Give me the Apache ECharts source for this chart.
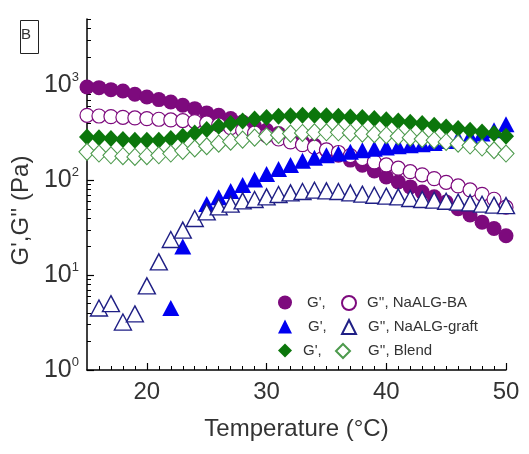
<!DOCTYPE html>
<html>
<head>
<meta charset="utf-8">
<script src="https://cdn.jsdelivr.net/npm/echarts@6/dist/echarts.min.js"></script>
<style>
html, body { margin: 0; padding: 0; background: #fff; }
#chart { width: 529px; height: 454px; }
</style>
</head>
<body>
<div id="chart"></div>
<script>
// temperature steps (°C)
const temps = [15, 16, 17, 18, 19, 20, 21, 22, 23, 24, 25, 26, 27, 28, 29, 30, 31, 32,
  33, 34, 35, 36, 37, 38, 39, 40, 41, 42, 43, 44, 45, 46, 47, 48, 49, 50];

// NaALG-BA
const baG1 = [960, 945, 900, 872, 804, 754, 707, 668, 616, 568, 512, 483, 446, 411, 370, 336, 310, 286,
  253, 233, 207, 183, 163, 144, 125, 108, 96, 85, 75, 67, 59, 50, 43, 36, 31, 26];
const baG2 = [483, 475, 468, 460, 453, 446, 439, 432, 425, 415, 401, 382, 358, 336, 315, 295, 272, 253,
  237, 223, 209, 196, 182, 169, 156, 145, 134, 123, 114, 104, 95, 87, 79, 71, 63, 52];

// NaALG-graft
const graftG1 = [null, null, null, null, null, null, null, 4.5, 20, null, 56, 66, 77, 89, 102, 116, 131, 145,
  160, 173, 183, 191, 199, 207, 214, 221, 228, 233, 239, 247, 259, 275, 290, 310, 336, 390];
const graftG2 = [null, 4.5, 5.0, 3.2, 3.9, 7.7, 13.8, 23.7, 29.8, 39.5, 46.4, 52.4, 55.9, 60.6, 62.6, 66.8, 70.7, 73.6,
  76, 78.5, 77.2, 76, 73.6, 71.3, 69.5, 67.9, 66.8, 64.2, 62.6, 61.6, 60.1, 58.7, 57.7, 55.9, 54.6, 54];

// Blend
const blendG1 = [286, 281, 275, 268, 264, 264, 264, 275, 290, 315, 342, 370, 395, 421, 442, 457, 472, 479,
  483, 483, 479, 472, 464, 457, 446, 435, 421, 408, 395, 379, 364, 350, 336, 323, 310, 290];
const blendG2 = [199, 191, 183, 179, 176, 179, 183, 191, 204, 216, 228, 243, 255, 268, 281, 290, 300, 310,
  315, 320, 320, 320, 315, 310, 305, 298, 290, 281, 272, 264, 253, 243, 232, 221, 207, 191];

// axis ticks
const xMajor = [20, 30, 40, 50];
const xMinor = [16, 17, 18, 19, 21, 22, 23, 24, 25, 26, 27, 28, 29, 31, 32, 33, 34, 35, 36, 37, 38, 39,
  41, 42, 43, 44, 45, 46, 47, 48, 49];
const yMajor = [1, 10, 100, 1000];
const yMinor = [2, 3, 4, 5, 6, 7, 8, 9, 20, 30, 40, 50, 60, 70, 80, 90,
  200, 300, 400, 500, 600, 700, 800, 900, 2000, 3000, 4000, 5000];

const FONT = '"Liberation Sans", Arial, sans-serif';
const PURPLE = '#7d0a7d';
const BLUE = '#0000f0';
const NAVY = '#1f1f85';
const GREEN = '#0b760b';
const LIGHTGREEN = '#4d9a4d';

function pairs(vals) {
  return temps.map((t, i) => vals[i] == null ? null : [t, vals[i]]).filter(Boolean);
}

const series = [
  { name: 'ba1', data: pairs(baG1), symbol: 'circle', symbolSize: 15,
    itemStyle: { color: PURPLE, opacity: 1 } },
  { name: 'ba2', data: pairs(baG2), symbol: 'circle', symbolSize: 14,
    itemStyle: { color: '#fff', borderColor: PURPLE, borderWidth: 1.2, opacity: 1 } },
  { name: 'gr1', data: pairs(graftG1), symbol: 'triangle', symbolSize: [17, 16],
    itemStyle: { color: BLUE, opacity: 1 } },
  { name: 'gr2', data: pairs(graftG2), symbol: 'triangle', symbolSize: [17, 16],
    itemStyle: { color: '#fff', borderColor: NAVY, borderWidth: 1.4, opacity: 1 } },
  { name: 'bl1', data: pairs(blendG1), symbol: 'diamond', symbolSize: [16, 17],
    itemStyle: { color: GREEN, opacity: 1 } },
  { name: 'bl2', data: pairs(blendG2), symbol: 'diamond', symbolSize: [16, 17],
    itemStyle: { color: '#fff', borderColor: LIGHTGREEN, borderWidth: 1.1, opacity: 1 } }
].map(s => Object.assign({ type: 'scatter', silent: true, xAxisIndex: 0, yAxisIndex: 0 }, s));

// legend: one entry per series, [name, text, iconCenterX, textStartX, rowCenterY]
const legendLayout = [
  ['ba1', "G',", 285, 307, 302],
  ['ba2', "G'', NaALG-BA", 348, 366, 302],
  ['gr1', "G',", 285, 308, 326],
  ['gr2', "G'', NaALG-graft", 348, 367, 326],
  ['bl1', "G',", 285, 303, 350],
  ['bl2', "G'', Blend", 342, 367, 350]
];
const legends = legendLayout.map(([name, text, cx, tx, cy]) => {
  const left = cx - 7;
  const pad = Math.max(0, tx - (left + 19));
  return {
    data: [name], left: left, top: cy - 7, padding: 0,
    itemWidth: 14, itemHeight: 14, selectedMode: false,
    formatter: () => '{t|' + text + '}',
    textStyle: { rich: { t: { fontFamily: FONT, fontSize: 15, color: '#333', padding: [0, 0, 0, pad] } } }
  };
});

const chart = echarts.init(document.getElementById('chart'), null, { renderer: 'canvas' });
chart.setOption({
  animation: false,
  backgroundColor: '#fff',
  grid: { left: 87, right: 23, top: 19, bottom: 84, containLabel: false },
  legend: legends,
  xAxis: [
    {
      type: 'value', min: 15, max: 50, position: 'bottom',
      name: 'Temperature (°C)', nameLocation: 'middle', nameGap: 47,
      nameTextStyle: { fontFamily: FONT, fontSize: 24, color: '#333' },
      axisLine: { lineStyle: { color: '#000', width: 1.5 } },
      axisTick: { inside: true, length: 7, customValues: xMajor, lineStyle: { color: '#000', width: 1.2 } },
      axisLabel: { customValues: xMajor, margin: 10, fontFamily: FONT, fontSize: 24, color: '#333' },
      splitLine: { show: false }
    },
    {
      type: 'value', min: 15, max: 50, position: 'bottom',
      axisLine: { show: false },
      axisTick: { inside: true, length: 4, customValues: xMinor, lineStyle: { color: '#000', width: 1 } },
      axisLabel: { show: false },
      splitLine: { show: false }
    }
  ],
  yAxis: [
    {
      type: 'log', logBase: 10, min: 1, max: 5000, position: 'left',
      name: "G',G'' (Pa)", nameLocation: 'middle', nameRotate: 90, nameGap: 46,
      nameTextStyle: { fontFamily: FONT, fontSize: 24, color: '#333', padding: [0, 32, 0, 0] },
      axisLine: { show: true, lineStyle: { color: '#000', width: 1.5 } },
      axisTick: { inside: true, length: 7, customValues: yMajor, lineStyle: { color: '#000', width: 1.2 } },
      axisLabel: {
        customValues: yMajor, margin: 8,
        formatter: v => '{b|10}{s|' + Math.round(Math.log10(v)) + '}',
        rich: {
          b: { fontFamily: FONT, fontSize: 25, color: '#333', lineHeight: 28 },
          s: { fontFamily: FONT, fontSize: 13, color: '#333', verticalAlign: 'top', lineHeight: 28 }
        }
      },
      splitLine: { show: false }
    },
    {
      type: 'log', logBase: 10, min: 1, max: 5000, position: 'left',
      axisLine: { show: false },
      axisTick: { inside: true, length: 4, customValues: yMinor, lineStyle: { color: '#000', width: 1 } },
      axisLabel: { show: false },
      splitLine: { show: false }
    }
  ],
  graphic: [
    { type: 'rect', left: 18, top: 18, shape: { width: 18, height: 33 },
      style: { fill: 'none', stroke: '#222', lineWidth: 1 } },
    { type: 'text', left: 21, top: 27, style: { text: 'B', fontFamily: FONT, fontSize: 15, fill: '#333' } }
  ],
  series: series
});
</script>
</body>
</html>
